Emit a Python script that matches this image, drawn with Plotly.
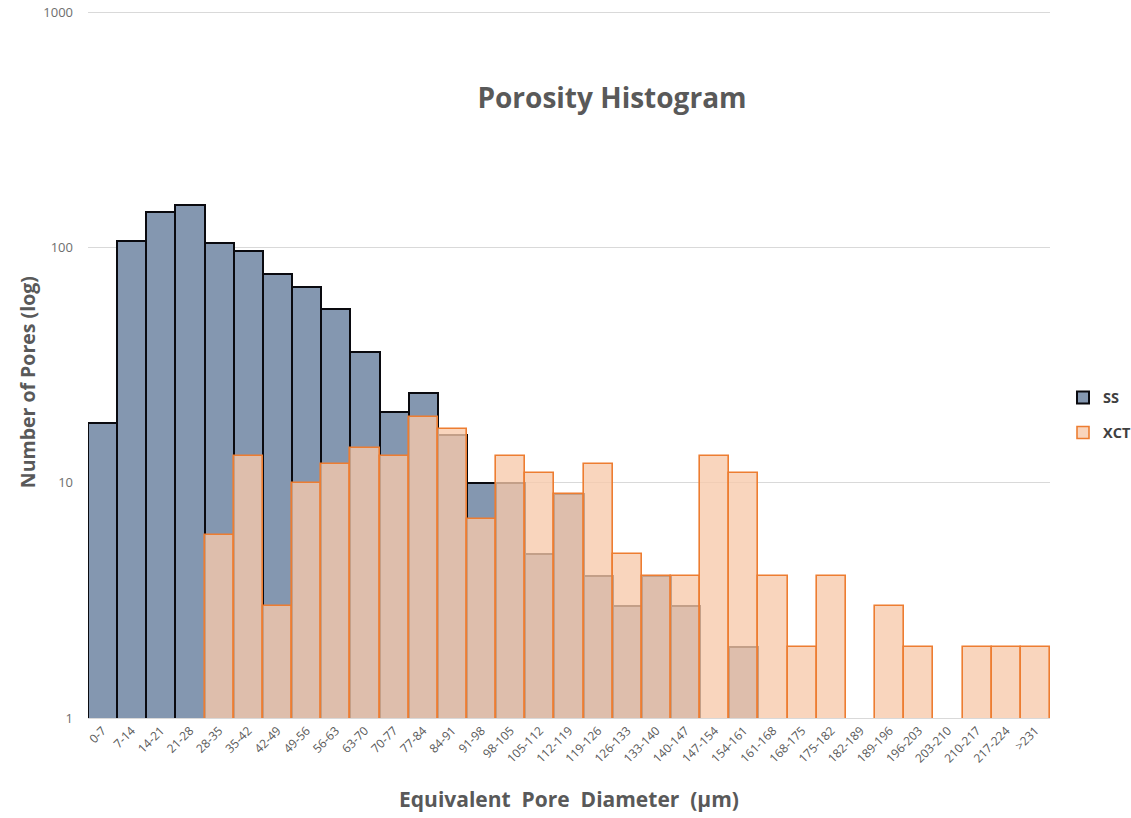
import plotly.graph_objects as go

categories = ["0-7", "7-14", "14-21", "21-28", "28-35", "35-42", "42-49", "49-56", "56-63",
              "63-70", "70-77", "77-84", "84-91", "91-98", "98-105", "105-112", "112-119",
              "119-126", "126-133", "133-140", "140-147", "147-154", "154-161", "161-168",
              "168-175", "175-182", "182-189", "189-196", "196-203", "203-210", "210-217",
              "217-224", ">231"]

ss_values = [18, 107, 142, 151, 105, 97, 77, 68, 55, 36, 20, 24, 16, 10, 10, 5, 9,
             4, 3, 4, 3, None, 2, None, None, None, None, None, None, None, None, None, None]

xct_values = [None, None, None, None, 6, 13, 3, 10, 12, 14, 13, 19, 17, 7, 13, 11, 9,
              12, 5, 4, 4, 13, 11, 4, 2, 4, None, 3, 2, None, 2, 2, 2]

y_tick_vals = [1, 10, 100, 1000]
y_tick_text = ["1", "10", "100", "1000"]

W, H = 1131, 818
Y_TOP = 3.01
decade_px = (718 - 12) / 3.0
ML, MR, MB = 88, 81, 100
plot_h = Y_TOP * decade_px
MT = H - MB - plot_h
plot_w = W - ML - MR

fig = go.Figure()
fig.add_trace(go.Bar(
    x=categories, y=ss_values, name="<b>SS</b>", legendgroup="ss",
    marker=dict(color="rgb(132,151,176)", line=dict(color="rgb(10,10,15)", width=2)),
))
fig.add_trace(go.Bar(
    x=categories, y=xct_values, name="<b>XCT</b>", legendgroup="xct",
    marker=dict(color="rgba(247,201,170,0.78)", line=dict(color="rgb(237,125,49)", width=1.6)),
))

font_family = "'Open Sans', sans-serif"


def py(page_y):
    return 1 - (page_y - MT) / plot_h


fig.update_layout(
    width=W, height=H,
    barmode="overlay", bargap=0,
    paper_bgcolor="white", plot_bgcolor="white",
    margin=dict(l=ML, r=MR, t=MT, b=MB, autoexpand=False),
    font=dict(family=font_family, color="rgb(89,89,89)"),
    title=dict(text="<b>Porosity Histogram</b>", x=612 / W, xanchor="center",
               xref="container", y=1 - 98 / H, yanchor="middle", yref="container",
               font=dict(size=28, color="rgb(89,89,89)", family=font_family)),
    legend=dict(x=(1063 - ML) / plot_w, y=py(415), xanchor="left", yanchor="middle",
                font=dict(size=14.5, color="rgb(64,64,64)", family=font_family),
                tracegroupgap=13, traceorder="grouped"),
    showlegend=True,
    annotations=[dict(
        text="<b>Number of Pores (log)</b>", textangle=-90,
        xref="paper", yref="paper",
        x=(27 - ML) / plot_w, y=py(382),
        xanchor="center", yanchor="middle", showarrow=False,
        font=dict(size=19.5, color="rgb(89,89,89)", family=font_family),
    )],
)
fig.update_xaxes(
    type="category", tickangle=-45, tickfont=dict(size=12, color="rgb(89,89,89)"),
    showline=True, linecolor="rgb(217,217,217)", linewidth=1, showgrid=False,
    ticks="", automargin=False,
    title=dict(text="<b>Equivalent  Pore  Diameter  (µm)</b>",
               font=dict(size=21, color="rgb(89,89,89)"), standoff=26),
)
fig.update_yaxes(
    type="log", range=[0, Y_TOP], tickvals=y_tick_vals, ticktext=y_tick_text,
    tickfont=dict(size=13, color="rgb(110,110,110)"),
    showgrid=True, gridcolor="rgb(217,217,217)", gridwidth=1,
    showline=False, zeroline=False, ticks="", ticklabelstandoff=14, automargin=False,
)

fig.write_html("out.html", config={"displayModeBar": False},
               post_script="document.body.style.margin='0px';")
